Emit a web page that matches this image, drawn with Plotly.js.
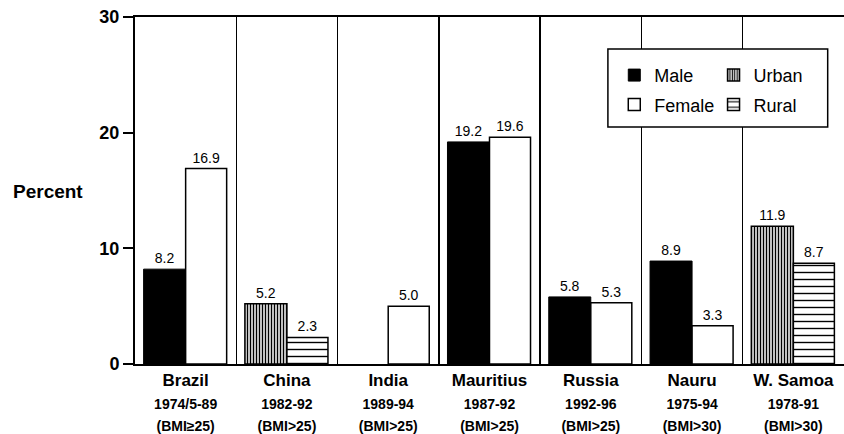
<!DOCTYPE html>
<html>
<head>
<meta charset="utf-8">
<script src="https://cdn.plot.ly/plotly-3.0.1.min.js"></script>
<style>html,body{margin:0;padding:0;background:#fff;}#chart{width:844px;height:434px;}</style>
</head>
<body>
<div id="chart"></div>
<script>
// ---- data ----
const countries = ["Brazil", "China", "India", "Mauritius", "Russia", "Nauru", "W. Samoa"];
const periods   = ["1974/5-89", "1982-92", "1989-94", "1987-92", "1992-96", "1975-94", "1978-91"];
const criteria  = ["(BMI≥25)", "(BMI>25)", "(BMI>25)", "(BMI>25)", "(BMI>25)", "(BMI>30)", "(BMI>30)"];
const maleValues   = [8.2, null, null, 19.2, 5.8, 8.9, null];
const femaleValues = [16.9, null, 5.0, 19.6, 5.3, 3.3, null];
const urbanValues  = [null, 5.2, null, null, null, null, 11.9];
const ruralValues  = [null, 2.3, null, null, null, null, 8.7];
const yTicks = [0, 10, 20, 30];

const FONT = '"Liberation Sans", Arial, Helvetica, sans-serif';
const labelFont = {family: FONT, size: 14, color: '#000'};

function fmt(arr){ return arr.map(v => v == null ? '' : v.toFixed(1)); }

const common = {
  type: 'bar',
  x: countries,
  textposition: 'outside',
  textfont: labelFont,
  cliponaxis: false,
  hoverinfo: 'skip'
};

const LEFT_OFF = -0.415, LEFT_W = 0.415, RIGHT_OFF = 0.0, RIGHT_W = 0.405;

const traces = [
  Object.assign({}, common, {
    name: 'Male', y: maleValues, text: fmt(maleValues),
    offset: LEFT_OFF, width: LEFT_W,
    marker: {color: '#000', line: {color: '#000', width: 1}},
    legend: 'legend', legendgroup: 'm'
  }),
  Object.assign({}, common, {
    name: 'Female', y: femaleValues, text: fmt(femaleValues),
    offset: RIGHT_OFF, width: RIGHT_W,
    marker: {color: '#fff', line: {color: '#000', width: 1.5}},
    legend: 'legend', legendgroup: 'f'
  }),
  Object.assign({}, common, {
    name: 'Urban', y: urbanValues, text: fmt(urbanValues),
    offset: LEFT_OFF, width: LEFT_W,
    marker: {color: '#fff', line: {color: '#000', width: 1.5},
             pattern: {shape: '|', fgcolor: '#000', bgcolor: '#fff', size: 3, solidity: 0.5}},
    legend: 'legend2', legendgroup: 'u'
  }),
  Object.assign({}, common, {
    name: 'Rural', y: ruralValues, text: fmt(ruralValues),
    offset: RIGHT_OFF, width: RIGHT_W,
    marker: {color: '#fff', line: {color: '#000', width: 1.5},
             pattern: {shape: '-', fgcolor: '#000', bgcolor: '#fff', size: 7, solidity: 0.2}},
    legend: 'legend2', legendgroup: 'r'
  })
];

const tickText = countries.map((c, i) =>
  c + '<br><span style="font-size:14px">' + periods[i] + '</span><br><span style="font-size:14px">' + criteria[i] + '</span>'
);

const legendCommon = {
  bgcolor: 'rgba(0,0,0,0)', borderwidth: 0,
  font: {family: FONT, size: 18, color: '#000'},
  traceorder: 'grouped', tracegroupgap: 3,
  xanchor: 'left', yanchor: 'top', y: 0.885
};

const layout = {
  width: 844, height: 434,
  margin: {l: 135, r: 0, t: 17, b: 70},
  paper_bgcolor: '#fff', plot_bgcolor: '#fff',
  barmode: 'overlay',
  font: {family: FONT, color: '#000'},
  xaxis: {
    type: 'category',
    range: [-0.5, 6.5],
    tickson: 'boundaries',
    tickmode: 'array', tickvals: countries, ticktext: tickText,
    tickfont: {family: FONT, size: 17, weight: 'bold', color: '#000'},
    ticks: '',
    showgrid: true, gridcolor: '#000', gridwidth: 1.5,
    showline: true, linecolor: '#000', linewidth: 2, mirror: true,
    zeroline: false, fixedrange: true
  },
  yaxis: {
    range: [0, 30],
    tickmode: 'array', tickvals: yTicks, ticktext: yTicks.map(String),
    tickfont: {family: FONT, size: 18, weight: 'bold', color: '#000'},
    ticks: 'outside', ticklen: 10, tickwidth: 2, tickcolor: '#000',
    showgrid: false, zeroline: false,
    showline: true, linecolor: '#000', linewidth: 2,
    fixedrange: true
  },
  showlegend: true,
  legend: Object.assign({}, legendCommon, {x: 0.676}),
  legend2: Object.assign({}, legendCommon, {x: 0.816}),
  shapes: [{
    type: 'rect', xref: 'paper', yref: 'paper', layer: 'above',
    x0: 0.667, x1: 0.977, y0: 0.683, y1: 0.908,
    fillcolor: '#fff', line: {color: '#000', width: 1.5}
  }],
  annotations: [{
    text: 'Percent', xref: 'paper', yref: 'paper',
    x: -0.175, y: 0.496, xanchor: 'left', yanchor: 'middle', showarrow: false,
    font: {family: FONT, size: 19, weight: 'bold', color: '#000'}
  }]
};

Plotly.newPlot('chart', traces, layout, {displayModeBar: false, staticPlot: true});
</script>
</body>
</html>
